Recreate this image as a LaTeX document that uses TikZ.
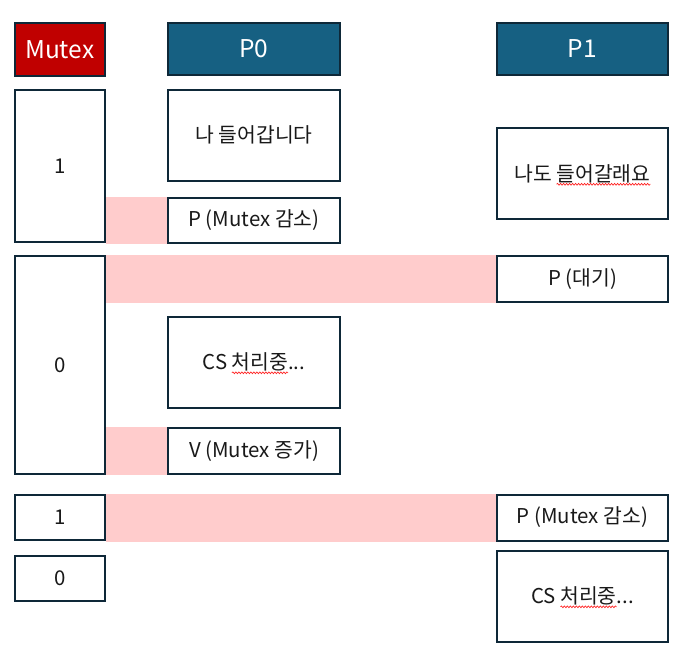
\documentclass[tikz,border=0pt]{standalone}
\usepackage{fontspec}
\setmainfont{Noto Sans CJK KR}
\usetikzlibrary{backgrounds,decorations.pathmorphing}
\definecolor{edge}{RGB}{14,40,56}
\definecolor{hdrblue}{RGB}{22,96,130}
\definecolor{hdrred}{RGB}{192,0,0}
\definecolor{band}{RGB}{255,204,204}
\newcommand\bodyfont{\fontsize{20.4}{24}\selectfont}
\newlength\wtot \newlength\wpre \newlength\wword
\newcommand\measurewave[4]{%
  \settowidth\wtot{\bodyfont #2#3#4}%
  \settowidth\wpre{\bodyfont #2}%
  \settowidth\wword{\bodyfont #3}%
  \expandafter\xdef\csname wvs#1\endcsname{\the\dimexpr\wpre-\wtot/2\relax}%
  \expandafter\xdef\csname wve#1\endcsname{\the\dimexpr\wpre+\wword-\wtot/2\relax}}
\newcommand\spellwave[1]{%
  \draw[wavy] ([xshift=\csname wvs#1\endcsname, yshift=-10.5pt]#1.center) -- ([xshift=\csname wve#1\endcsname, yshift=-10.5pt]#1.center);}
\tikzset{
  cell/.style={draw=edge, line width=2pt, fill=white, inner sep=0pt, font=\bodyfont, text=black!90},
  hdr/.style={draw=edge, line width=2pt, inner sep=0pt, font=\fontsize{24.5}{28}\selectfont, text=white},
  mcol/.style={minimum width=89.5pt},
  pcol/.style={minimum width=171.5pt},
  bandfill/.style={fill=band},
  wavy/.style={draw=red!85, line width=0.7pt, decorate, decoration={snake, amplitude=0.9pt, segment length=3pt}}
}
\begin{document}
\measurewave{a3}{CS }{처리중}{...}%
\measurewave{b1}{나도 }{들어갈래요}{}%
\measurewave{b4}{CS }{처리중}{...}%
\begin{tikzpicture}[x=1pt,y=-1pt]
\useasboundingbox (0,0) rectangle (689,661);
% headers
\node[hdr, fill=hdrred, mcol, minimum height=53pt] (hm) at (59.8,49.2) {Mutex};
\node[hdr, fill=hdrblue, pcol, minimum height=52pt] (h0) at (254,48.7) {P0};
\node[hdr, fill=hdrblue, pcol, minimum height=52pt] (h1) at (582.5,48.7) {P1};
% mutex column
\node[cell, mcol, minimum height=151pt] (m1) at (59.8,166) {1};
\node[cell, mcol, minimum height=218pt] (m0) at (59.8,365.4) {0};
\node[cell, mcol, minimum height=45pt] (m1b) at (59.8,517.2) {1};
\node[cell, mcol, minimum height=45pt] (m0b) at (59.8,578.3) {0};
% P0 column
\node[cell, pcol, minimum height=91pt] (a1) at (254,135.2) {나 들어갑니다};
\node[cell, pcol, minimum height=45.5pt] (a2) at (254,220.5) {P (Mutex 감소)};
\node[cell, pcol, minimum height=91pt] (a3) at (254,362.3) {CS 처리중...};
\node[cell, pcol, minimum height=46pt] (a4) at (254,451.2) {V (Mutex 증가)};
% P1 column
\node[cell, pcol, minimum height=91pt] (b1) at (582.5,173.8) {나도 들어갈래요};
\node[cell, pcol, minimum height=46pt] (b2) at (582.5,279.3) {P (대기)};
\node[cell, pcol, minimum height=46pt] (b3) at (582.5,517.5) {P (Mutex 감소)};
\node[cell, pcol, minimum height=91pt] (b4) at (582.5,596.3) {CS 처리중...};
% spell-check underlines
\spellwave{a3}
\spellwave{b1}
\spellwave{b4}
% bands
\begin{pgfonlayer}{background}
\fill[bandfill] (m1.east |- a2.north) rectangle (a2.south west);
\fill[bandfill] (m0.east |- b2.north) rectangle (b2.south west);
\fill[bandfill] (m0.east |- a4.north) rectangle (a4.south west);
\fill[bandfill] (m1b.east |- b3.north) rectangle (b3.south west);
\end{pgfonlayer}
\end{tikzpicture}
\end{document}
